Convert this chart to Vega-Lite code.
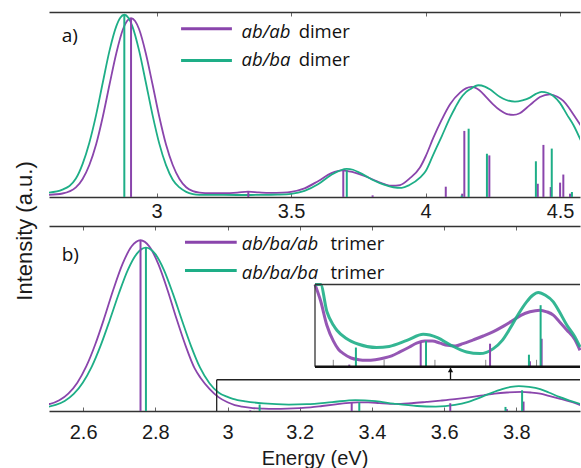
{
 "$schema": "https://vega.github.io/schema/vega-lite/v6.json",
 "background": "white",
 "padding": {"left": 14, "top": 11, "right": 0, "bottom": 0},
 "bounds": "flush",
 "spacing": 29,
 "config": {
  "view": {"stroke": null},
  "legend": {"disable": true},
  "axis": {"grid": false, "domainColor": "#333333", "domainWidth": 1.4, "tickColor": "#666666", "tickWidth": 1, "labelFont": "Liberation Sans", "labelFontSize": 20, "labelColor": "#1a1a1a", "titleFont": "Liberation Sans", "titleFontSize": 20, "titleColor": "#1a1a1a", "titleFontWeight": "normal"}
 },
 "datasets": {
  "curves": [
   {"panel":"a","series":"ab/ab dimer","E":2.600,"I":0.012},
   {"panel":"a","series":"ab/ab dimer","E":2.650,"I":0.019},
   {"panel":"a","series":"ab/ab dimer","E":2.700,"I":0.052},
   {"panel":"a","series":"ab/ab dimer","E":2.725,"I":0.098},
   {"panel":"a","series":"ab/ab dimer","E":2.750,"I":0.174},
   {"panel":"a","series":"ab/ab dimer","E":2.775,"I":0.285},
   {"panel":"a","series":"ab/ab dimer","E":2.800,"I":0.436},
   {"panel":"a","series":"ab/ab dimer","E":2.825,"I":0.611},
   {"panel":"a","series":"ab/ab dimer","E":2.850,"I":0.780},
   {"panel":"a","series":"ab/ab dimer","E":2.875,"I":0.911},
   {"panel":"a","series":"ab/ab dimer","E":2.890,"I":0.956},
   {"panel":"a","series":"ab/ab dimer","E":2.905,"I":0.972},
   {"panel":"a","series":"ab/ab dimer","E":2.920,"I":0.956},
   {"panel":"a","series":"ab/ab dimer","E":2.935,"I":0.911},
   {"panel":"a","series":"ab/ab dimer","E":2.960,"I":0.780},
   {"panel":"a","series":"ab/ab dimer","E":2.985,"I":0.611},
   {"panel":"a","series":"ab/ab dimer","E":3.010,"I":0.436},
   {"panel":"a","series":"ab/ab dimer","E":3.035,"I":0.285},
   {"panel":"a","series":"ab/ab dimer","E":3.060,"I":0.174},
   {"panel":"a","series":"ab/ab dimer","E":3.085,"I":0.098},
   {"panel":"a","series":"ab/ab dimer","E":3.110,"I":0.053},
   {"panel":"a","series":"ab/ab dimer","E":3.135,"I":0.032},
   {"panel":"a","series":"ab/ab dimer","E":3.160,"I":0.024},
   {"panel":"a","series":"ab/ab dimer","E":3.200,"I":0.021},
   {"panel":"a","series":"ab/ab dimer","E":3.250,"I":0.021},
   {"panel":"a","series":"ab/ab dimer","E":3.300,"I":0.024},
   {"panel":"a","series":"ab/ab dimer","E":3.340,"I":0.029},
   {"panel":"a","series":"ab/ab dimer","E":3.380,"I":0.025},
   {"panel":"a","series":"ab/ab dimer","E":3.420,"I":0.022},
   {"panel":"a","series":"ab/ab dimer","E":3.470,"I":0.024},
   {"panel":"a","series":"ab/ab dimer","E":3.500,"I":0.028},
   {"panel":"a","series":"ab/ab dimer","E":3.550,"I":0.047},
   {"panel":"a","series":"ab/ab dimer","E":3.600,"I":0.086},
   {"panel":"a","series":"ab/ab dimer","E":3.650,"I":0.130},
   {"panel":"a","series":"ab/ab dimer","E":3.690,"I":0.145},
   {"panel":"a","series":"ab/ab dimer","E":3.730,"I":0.135},
   {"panel":"a","series":"ab/ab dimer","E":3.780,"I":0.110},
   {"panel":"a","series":"ab/ab dimer","E":3.820,"I":0.085},
   {"panel":"a","series":"ab/ab dimer","E":3.850,"I":0.068},
   {"panel":"a","series":"ab/ab dimer","E":3.875,"I":0.061},
   {"panel":"a","series":"ab/ab dimer","E":3.905,"I":0.065},
   {"panel":"a","series":"ab/ab dimer","E":3.940,"I":0.100},
   {"panel":"a","series":"ab/ab dimer","E":3.979,"I":0.160},
   {"panel":"a","series":"ab/ab dimer","E":4.000,"I":0.220},
   {"panel":"a","series":"ab/ab dimer","E":4.029,"I":0.322},
   {"panel":"a","series":"ab/ab dimer","E":4.060,"I":0.420},
   {"panel":"a","series":"ab/ab dimer","E":4.091,"I":0.504},
   {"panel":"a","series":"ab/ab dimer","E":4.128,"I":0.567},
   {"panel":"a","series":"ab/ab dimer","E":4.150,"I":0.590},
   {"panel":"a","series":"ab/ab dimer","E":4.171,"I":0.598},
   {"panel":"a","series":"ab/ab dimer","E":4.200,"I":0.580},
   {"panel":"a","series":"ab/ab dimer","E":4.227,"I":0.540},
   {"panel":"a","series":"ab/ab dimer","E":4.250,"I":0.505},
   {"panel":"a","series":"ab/ab dimer","E":4.277,"I":0.471},
   {"panel":"a","series":"ab/ab dimer","E":4.300,"I":0.452},
   {"panel":"a","series":"ab/ab dimer","E":4.326,"I":0.446},
   {"panel":"a","series":"ab/ab dimer","E":4.350,"I":0.455},
   {"panel":"a","series":"ab/ab dimer","E":4.376,"I":0.485},
   {"panel":"a","series":"ab/ab dimer","E":4.400,"I":0.515},
   {"panel":"a","series":"ab/ab dimer","E":4.425,"I":0.543},
   {"panel":"a","series":"ab/ab dimer","E":4.462,"I":0.558},
   {"panel":"a","series":"ab/ab dimer","E":4.490,"I":0.545},
   {"panel":"a","series":"ab/ab dimer","E":4.512,"I":0.522},
   {"panel":"a","series":"ab/ab dimer","E":4.530,"I":0.490},
   {"panel":"a","series":"ab/ab dimer","E":4.549,"I":0.449},
   {"panel":"a","series":"ab/ab dimer","E":4.578,"I":0.386},
   {"panel":"a","series":"ab/ba dimer","E":2.600,"I":0.024},
   {"panel":"a","series":"ab/ba dimer","E":2.650,"I":0.040},
   {"panel":"a","series":"ab/ba dimer","E":2.700,"I":0.100},
   {"panel":"a","series":"ab/ba dimer","E":2.725,"I":0.180},
   {"panel":"a","series":"ab/ba dimer","E":2.750,"I":0.295},
   {"panel":"a","series":"ab/ba dimer","E":2.775,"I":0.445},
   {"panel":"a","series":"ab/ba dimer","E":2.800,"I":0.622},
   {"panel":"a","series":"ab/ba dimer","E":2.825,"I":0.795},
   {"panel":"a","series":"ab/ba dimer","E":2.850,"I":0.927},
   {"panel":"a","series":"ab/ba dimer","E":2.865,"I":0.974},
   {"panel":"a","series":"ab/ba dimer","E":2.880,"I":0.990},
   {"panel":"a","series":"ab/ba dimer","E":2.895,"I":0.974},
   {"panel":"a","series":"ab/ba dimer","E":2.910,"I":0.927},
   {"panel":"a","series":"ab/ba dimer","E":2.935,"I":0.795},
   {"panel":"a","series":"ab/ba dimer","E":2.960,"I":0.622},
   {"panel":"a","series":"ab/ba dimer","E":2.985,"I":0.445},
   {"panel":"a","series":"ab/ba dimer","E":3.010,"I":0.290},
   {"panel":"a","series":"ab/ba dimer","E":3.035,"I":0.173},
   {"panel":"a","series":"ab/ba dimer","E":3.060,"I":0.094},
   {"panel":"a","series":"ab/ba dimer","E":3.085,"I":0.052},
   {"panel":"a","series":"ab/ba dimer","E":3.110,"I":0.028},
   {"panel":"a","series":"ab/ba dimer","E":3.135,"I":0.016},
   {"panel":"a","series":"ab/ba dimer","E":3.160,"I":0.012},
   {"panel":"a","series":"ab/ba dimer","E":3.250,"I":0.011},
   {"panel":"a","series":"ab/ba dimer","E":3.350,"I":0.011},
   {"panel":"a","series":"ab/ba dimer","E":3.420,"I":0.012},
   {"panel":"a","series":"ab/ba dimer","E":3.450,"I":0.013},
   {"panel":"a","series":"ab/ba dimer","E":3.500,"I":0.017},
   {"panel":"a","series":"ab/ba dimer","E":3.550,"I":0.033},
   {"panel":"a","series":"ab/ba dimer","E":3.600,"I":0.069},
   {"panel":"a","series":"ab/ba dimer","E":3.650,"I":0.121},
   {"panel":"a","series":"ab/ba dimer","E":3.707,"I":0.153},
   {"panel":"a","series":"ab/ba dimer","E":3.730,"I":0.148},
   {"panel":"a","series":"ab/ba dimer","E":3.750,"I":0.135},
   {"panel":"a","series":"ab/ba dimer","E":3.780,"I":0.112},
   {"panel":"a","series":"ab/ba dimer","E":3.800,"I":0.095},
   {"panel":"a","series":"ab/ba dimer","E":3.830,"I":0.075},
   {"panel":"a","series":"ab/ba dimer","E":3.860,"I":0.060},
   {"panel":"a","series":"ab/ba dimer","E":3.880,"I":0.053},
   {"panel":"a","series":"ab/ba dimer","E":3.911,"I":0.050},
   {"panel":"a","series":"ab/ba dimer","E":3.940,"I":0.065},
   {"panel":"a","series":"ab/ba dimer","E":3.979,"I":0.105},
   {"panel":"a","series":"ab/ba dimer","E":4.000,"I":0.140},
   {"panel":"a","series":"ab/ba dimer","E":4.029,"I":0.232},
   {"panel":"a","series":"ab/ba dimer","E":4.060,"I":0.330},
   {"panel":"a","series":"ab/ba dimer","E":4.091,"I":0.431},
   {"panel":"a","series":"ab/ba dimer","E":4.110,"I":0.485},
   {"panel":"a","series":"ab/ba dimer","E":4.128,"I":0.531},
   {"panel":"a","series":"ab/ba dimer","E":4.150,"I":0.570},
   {"panel":"a","series":"ab/ba dimer","E":4.165,"I":0.585},
   {"panel":"a","series":"ab/ba dimer","E":4.196,"I":0.607},
   {"panel":"a","series":"ab/ba dimer","E":4.220,"I":0.600},
   {"panel":"a","series":"ab/ba dimer","E":4.239,"I":0.585},
   {"panel":"a","series":"ab/ba dimer","E":4.277,"I":0.543},
   {"panel":"a","series":"ab/ba dimer","E":4.300,"I":0.527},
   {"panel":"a","series":"ab/ba dimer","E":4.332,"I":0.518},
   {"panel":"a","series":"ab/ba dimer","E":4.360,"I":0.525},
   {"panel":"a","series":"ab/ba dimer","E":4.388,"I":0.540},
   {"panel":"a","series":"ab/ba dimer","E":4.410,"I":0.560},
   {"panel":"a","series":"ab/ba dimer","E":4.431,"I":0.571},
   {"panel":"a","series":"ab/ba dimer","E":4.455,"I":0.565},
   {"panel":"a","series":"ab/ba dimer","E":4.475,"I":0.549},
   {"panel":"a","series":"ab/ba dimer","E":4.500,"I":0.510},
   {"panel":"a","series":"ab/ba dimer","E":4.525,"I":0.449},
   {"panel":"a","series":"ab/ba dimer","E":4.550,"I":0.390},
   {"panel":"a","series":"ab/ba dimer","E":4.578,"I":0.304},
   {"panel":"b","series":"ab/ba/ab trimer","E":2.500,"I":0.036},
   {"panel":"b","series":"ab/ba/ab trimer","E":2.509,"I":0.039},
   {"panel":"b","series":"ab/ba/ab trimer","E":2.534,"I":0.058},
   {"panel":"b","series":"ab/ba/ab trimer","E":2.559,"I":0.094},
   {"panel":"b","series":"ab/ba/ab trimer","E":2.584,"I":0.153},
   {"panel":"b","series":"ab/ba/ab trimer","E":2.609,"I":0.242},
   {"panel":"b","series":"ab/ba/ab trimer","E":2.634,"I":0.362},
   {"panel":"b","series":"ab/ba/ab trimer","E":2.659,"I":0.505},
   {"panel":"b","series":"ab/ba/ab trimer","E":2.684,"I":0.658},
   {"panel":"b","series":"ab/ba/ab trimer","E":2.709,"I":0.794},
   {"panel":"b","series":"ab/ba/ab trimer","E":2.734,"I":0.889},
   {"panel":"b","series":"ab/ba/ab trimer","E":2.759,"I":0.923},
   {"panel":"b","series":"ab/ba/ab trimer","E":2.784,"I":0.888},
   {"panel":"b","series":"ab/ba/ab trimer","E":2.809,"I":0.791},
   {"panel":"b","series":"ab/ba/ab trimer","E":2.834,"I":0.653},
   {"panel":"b","series":"ab/ba/ab trimer","E":2.859,"I":0.497},
   {"panel":"b","series":"ab/ba/ab trimer","E":2.884,"I":0.352},
   {"panel":"b","series":"ab/ba/ab trimer","E":2.909,"I":0.230},
   {"panel":"b","series":"ab/ba/ab trimer","E":2.925,"I":0.180},
   {"panel":"b","series":"ab/ba/ab trimer","E":2.950,"I":0.120},
   {"panel":"b","series":"ab/ba/ab trimer","E":2.975,"I":0.075},
   {"panel":"b","series":"ab/ba/ab trimer","E":3.000,"I":0.047},
   {"panel":"b","series":"ab/ba/ab trimer","E":3.020,"I":0.032},
   {"panel":"b","series":"ab/ba/ab trimer","E":3.040,"I":0.024},
   {"panel":"b","series":"ab/ba/ab trimer","E":3.070,"I":0.016},
   {"panel":"b","series":"ab/ba/ab trimer","E":3.100,"I":0.013},
   {"panel":"b","series":"ab/ba/ab trimer","E":3.130,"I":0.012},
   {"panel":"b","series":"ab/ba/ab trimer","E":3.165,"I":0.013},
   {"panel":"b","series":"ab/ba/ab trimer","E":3.200,"I":0.016},
   {"panel":"b","series":"ab/ba/ab trimer","E":3.230,"I":0.020},
   {"panel":"b","series":"ab/ba/ab trimer","E":3.262,"I":0.027},
   {"panel":"b","series":"ab/ba/ab trimer","E":3.300,"I":0.036},
   {"panel":"b","series":"ab/ba/ab trimer","E":3.328,"I":0.043},
   {"panel":"b","series":"ab/ba/ab trimer","E":3.360,"I":0.047},
   {"panel":"b","series":"ab/ba/ab trimer","E":3.390,"I":0.047},
   {"panel":"b","series":"ab/ba/ab trimer","E":3.420,"I":0.043},
   {"panel":"b","series":"ab/ba/ab trimer","E":3.450,"I":0.039},
   {"panel":"b","series":"ab/ba/ab trimer","E":3.480,"I":0.038},
   {"panel":"b","series":"ab/ba/ab trimer","E":3.510,"I":0.042},
   {"panel":"b","series":"ab/ba/ab trimer","E":3.551,"I":0.049},
   {"panel":"b","series":"ab/ba/ab trimer","E":3.590,"I":0.056},
   {"panel":"b","series":"ab/ba/ab trimer","E":3.630,"I":0.064},
   {"panel":"b","series":"ab/ba/ab trimer","E":3.670,"I":0.074},
   {"panel":"b","series":"ab/ba/ab trimer","E":3.709,"I":0.085},
   {"panel":"b","series":"ab/ba/ab trimer","E":3.740,"I":0.094},
   {"panel":"b","series":"ab/ba/ab trimer","E":3.774,"I":0.100},
   {"panel":"b","series":"ab/ba/ab trimer","E":3.814,"I":0.103},
   {"panel":"b","series":"ab/ba/ab trimer","E":3.840,"I":0.100},
   {"panel":"b","series":"ab/ba/ab trimer","E":3.866,"I":0.094},
   {"panel":"b","series":"ab/ba/ab trimer","E":3.890,"I":0.082},
   {"panel":"b","series":"ab/ba/ab trimer","E":3.919,"I":0.067},
   {"panel":"b","series":"ab/ba/ab trimer","E":3.950,"I":0.050},
   {"panel":"b","series":"ab/ba/ab trimer","E":3.980,"I":0.030},
   {"panel":"b","series":"ab/ba/ba trimer","E":2.500,"I":0.022},
   {"panel":"b","series":"ab/ba/ba trimer","E":2.524,"I":0.033},
   {"panel":"b","series":"ab/ba/ba trimer","E":2.549,"I":0.054},
   {"panel":"b","series":"ab/ba/ba trimer","E":2.574,"I":0.092},
   {"panel":"b","series":"ab/ba/ba trimer","E":2.599,"I":0.153},
   {"panel":"b","series":"ab/ba/ba trimer","E":2.624,"I":0.240},
   {"panel":"b","series":"ab/ba/ba trimer","E":2.649,"I":0.356},
   {"panel":"b","series":"ab/ba/ba trimer","E":2.674,"I":0.492},
   {"panel":"b","series":"ab/ba/ba trimer","E":2.699,"I":0.635},
   {"panel":"b","series":"ab/ba/ba trimer","E":2.724,"I":0.763},
   {"panel":"b","series":"ab/ba/ba trimer","E":2.749,"I":0.851},
   {"panel":"b","series":"ab/ba/ba trimer","E":2.774,"I":0.883},
   {"panel":"b","series":"ab/ba/ba trimer","E":2.799,"I":0.851},
   {"panel":"b","series":"ab/ba/ba trimer","E":2.824,"I":0.762},
   {"panel":"b","series":"ab/ba/ba trimer","E":2.849,"I":0.633},
   {"panel":"b","series":"ab/ba/ba trimer","E":2.874,"I":0.489},
   {"panel":"b","series":"ab/ba/ba trimer","E":2.899,"I":0.351},
   {"panel":"b","series":"ab/ba/ba trimer","E":2.924,"I":0.234},
   {"panel":"b","series":"ab/ba/ba trimer","E":2.950,"I":0.150},
   {"panel":"b","series":"ab/ba/ba trimer","E":2.975,"I":0.100},
   {"panel":"b","series":"ab/ba/ba trimer","E":3.000,"I":0.076},
   {"panel":"b","series":"ab/ba/ba trimer","E":3.015,"I":0.066},
   {"panel":"b","series":"ab/ba/ba trimer","E":3.050,"I":0.052},
   {"panel":"b","series":"ab/ba/ba trimer","E":3.100,"I":0.041},
   {"panel":"b","series":"ab/ba/ba trimer","E":3.170,"I":0.035},
   {"panel":"b","series":"ab/ba/ba trimer","E":3.220,"I":0.037},
   {"panel":"b","series":"ab/ba/ba trimer","E":3.290,"I":0.048},
   {"panel":"b","series":"ab/ba/ba trimer","E":3.354,"I":0.059},
   {"panel":"b","series":"ab/ba/ba trimer","E":3.410,"I":0.053},
   {"panel":"b","series":"ab/ba/ba trimer","E":3.460,"I":0.040},
   {"panel":"b","series":"ab/ba/ba trimer","E":3.525,"I":0.027},
   {"panel":"b","series":"ab/ba/ba trimer","E":3.577,"I":0.024},
   {"panel":"b","series":"ab/ba/ba trimer","E":3.630,"I":0.033},
   {"panel":"b","series":"ab/ba/ba trimer","E":3.665,"I":0.048},
   {"panel":"b","series":"ab/ba/ba trimer","E":3.696,"I":0.070},
   {"panel":"b","series":"ab/ba/ba trimer","E":3.730,"I":0.097},
   {"panel":"b","series":"ab/ba/ba trimer","E":3.761,"I":0.118},
   {"panel":"b","series":"ab/ba/ba trimer","E":3.785,"I":0.130},
   {"panel":"b","series":"ab/ba/ba trimer","E":3.807,"I":0.135},
   {"panel":"b","series":"ab/ba/ba trimer","E":3.835,"I":0.130},
   {"panel":"b","series":"ab/ba/ba trimer","E":3.866,"I":0.118},
   {"panel":"b","series":"ab/ba/ba trimer","E":3.890,"I":0.100},
   {"panel":"b","series":"ab/ba/ba trimer","E":3.919,"I":0.076},
   {"panel":"b","series":"ab/ba/ba trimer","E":3.950,"I":0.055},
   {"panel":"b","series":"ab/ba/ba trimer","E":3.980,"I":0.036}
  ],
  "sticks": [
   {"panel":"a","series":"ab/ab dimer","E":2.905,"I":0.972},
   {"panel":"a","series":"ab/ab dimer","E":3.341,"I":0.030},
   {"panel":"a","series":"ab/ab dimer","E":3.694,"I":0.142},
   {"panel":"a","series":"ab/ab dimer","E":3.803,"I":0.009},
   {"panel":"a","series":"ab/ab dimer","E":4.075,"I":0.056},
   {"panel":"a","series":"ab/ab dimer","E":4.136,"I":0.018},
   {"panel":"a","series":"ab/ab dimer","E":4.144,"I":0.359},
   {"panel":"a","series":"ab/ab dimer","E":4.237,"I":0.226},
   {"panel":"a","series":"ab/ab dimer","E":4.417,"I":0.072},
   {"panel":"a","series":"ab/ab dimer","E":4.438,"I":0.283},
   {"panel":"a","series":"ab/ab dimer","E":4.465,"I":0.054},
   {"panel":"a","series":"ab/ab dimer","E":4.500,"I":0.078},
   {"panel":"a","series":"ab/ab dimer","E":4.512,"I":0.122},
   {"panel":"a","series":"ab/ab dimer","E":4.537,"I":0.018},
   {"panel":"a","series":"ab/ba dimer","E":2.880,"I":0.990},
   {"panel":"a","series":"ab/ba dimer","E":3.707,"I":0.145},
   {"panel":"a","series":"ab/ba dimer","E":4.134,"I":0.008},
   {"panel":"a","series":"ab/ba dimer","E":4.160,"I":0.371},
   {"panel":"a","series":"ab/ba dimer","E":4.228,"I":0.235},
   {"panel":"a","series":"ab/ba dimer","E":4.410,"I":0.194},
   {"panel":"a","series":"ab/ba dimer","E":4.469,"I":0.263},
   {"panel":"a","series":"ab/ba dimer","E":4.544,"I":0.027},
   {"panel":"b","series":"ab/ba/ab trimer","E":2.759,"I":0.923},
   {"panel":"b","series":"ab/ba/ab trimer","E":3.063,"I":0.004},
   {"panel":"b","series":"ab/ba/ab trimer","E":3.344,"I":0.045},
   {"panel":"b","series":"ab/ba/ab trimer","E":3.617,"I":0.042},
   {"panel":"b","series":"ab/ba/ab trimer","E":3.774,"I":0.010},
   {"panel":"b","series":"ab/ba/ab trimer","E":3.820,"I":0.051},
   {"panel":"b","series":"ab/ba/ba trimer","E":2.774,"I":0.883},
   {"panel":"b","series":"ab/ba/ba trimer","E":3.089,"I":0.035},
   {"panel":"b","series":"ab/ba/ba trimer","E":3.365,"I":0.047},
   {"panel":"b","series":"ab/ba/ba trimer","E":3.770,"I":0.022},
   {"panel":"b","series":"ab/ba/ba trimer","E":3.816,"I":0.112}
  ]
 },
 "vconcat": [
  {
   "width": 531, "height": 185,
   "resolve": {"axis": {"x": "independent"}},
   "layer": [
    {"data": {"name": "curves"}, "transform": [{"filter": "datum.panel == 'a'"}],
     "mark": {"type": "line", "strokeWidth": 1.8, "interpolate": "monotone", "clip": true},
     "encoding": {
      "x": {"field": "E", "type": "quantitative", "scale": {"domain": [2.6, 4.574], "nice": false, "zero": false},
            "axis": {"orient": "bottom", "values": [3, 3.5, 4, 4.5], "format": "~g", "tickSize": -4, "labelPadding": 8, "title": null}},
      "y": {"field": "I", "type": "quantitative", "scale": {"domain": [0, 1.005], "nice": false},
            "axis": {"orient": "left", "ticks": false, "labels": false, "title": null}},
      "color": {"field": "series", "type": "nominal", "scale": {"domain": ["ab/ab dimer", "ab/ba dimer", "ab/ba/ab trimer", "ab/ba/ba trimer"], "range": ["#8A45AC", "#1EAE87", "#8A45AC", "#1EAE87"]}}
     }},
    {"data": {"name": "sticks"}, "transform": [{"filter": "datum.panel == 'a'"}],
     "mark": {"type": "rule", "strokeWidth": 2, "clip": true},
     "encoding": {
      "x": {"field": "E", "type": "quantitative", "axis": {"orient": "top", "values": [3, 3.5, 4, 4.5], "tickSize": -4, "labels": false, "title": null}},
      "y": {"field": "I", "type": "quantitative", "axis": null},
      "y2": {"datum": 0},
      "color": {"field": "series", "type": "nominal"}
     }},
    {"data": {"values": [{}]}, "mark": {"type": "text", "font": "Liberation Sans", "fontSize": 22, "angle": 270, "align": "center", "baseline": "middle", "color": "#1a1a1a"},
     "encoding": {"x": {"datum": 2.5108, "type": "quantitative", "axis": null}, "y": {"datum": -0.1847, "type": "quantitative", "axis": null}, "text": {"value": "Intensity (a.u.)"}}},
    {"data": {"values": [{}]}, "mark": {"type": "rule", "strokeWidth": 3},
     "encoding": {"x": {"datum": 3.091, "type": "quantitative", "axis": null}, "x2": {"datum": 3.280}, "y": {"datum": 0.914, "type": "quantitative", "axis": null}, "color": {"datum": "ab/ab dimer"}}},
    {"data": {"values": [{}]}, "mark": {"type": "rule", "strokeWidth": 3},
     "encoding": {"x": {"datum": 3.091, "type": "quantitative", "axis": null}, "x2": {"datum": 3.280}, "y": {"datum": 0.742, "type": "quantitative", "axis": null}, "color": {"datum": "ab/ba dimer"}}},
    {"data": {"values": [{}]}, "mark": {"type": "text", "font": "Open Sans", "fontSize": 18.5, "fontStyle": "italic", "align": "left", "baseline": "alphabetic", "color": "#111111"},
     "encoding": {"x": {"datum": 3.316, "type": "quantitative", "axis": null}, "y": {"datum": 0.865, "type": "quantitative", "axis": null}, "text": {"value": "ab/ab"}}},
    {"data": {"values": [{}]}, "mark": {"type": "text", "font": "Open Sans", "fontSize": 18.5, "align": "left", "baseline": "alphabetic", "color": "#111111"},
     "encoding": {"x": {"datum": 3.528, "type": "quantitative", "axis": null}, "y": {"datum": 0.865, "type": "quantitative", "axis": null}, "text": {"value": "dimer"}}},
    {"data": {"values": [{}]}, "mark": {"type": "text", "font": "Open Sans", "fontSize": 18.5, "fontStyle": "italic", "align": "left", "baseline": "alphabetic", "color": "#111111"},
     "encoding": {"x": {"datum": 3.316, "type": "quantitative", "axis": null}, "y": {"datum": 0.711, "type": "quantitative", "axis": null}, "text": {"value": "ab/ba"}}},
    {"data": {"values": [{}]}, "mark": {"type": "text", "font": "Open Sans", "fontSize": 18.5, "align": "left", "baseline": "alphabetic", "color": "#111111"},
     "encoding": {"x": {"datum": 3.528, "type": "quantitative", "axis": null}, "y": {"datum": 0.711, "type": "quantitative", "axis": null}, "text": {"value": "dimer"}}},
    {"data": {"values": [{}]}, "mark": {"type": "text", "font": "Open Sans", "fontSize": 19, "align": "left", "baseline": "alphabetic", "color": "#111111"},
     "encoding": {"x": {"datum": 2.647, "type": "quantitative", "axis": null}, "y": {"datum": 0.84, "type": "quantitative", "axis": null}, "text": {"value": "a)"}}}
   ]
  },
  {
   "width": 531, "height": 185,
   "resolve": {"scale": {"x": "independent", "y": "independent"}},
   "layer": [
    {
     "resolve": {"axis": {"x": "independent"}},
     "layer": [
      {"data": {"name": "curves"}, "transform": [{"filter": "datum.panel == 'b'"}],
       "mark": {"type": "line", "strokeWidth": 1.8, "interpolate": "monotone", "clip": true},
       "encoding": {
        "x": {"field": "E", "type": "quantitative", "scale": {"domain": [2.5055, 3.9764], "nice": false, "zero": false},
              "axis": {"orient": "bottom", "values": [2.6, 2.8, 3, 3.2, 3.4, 3.6, 3.8], "format": "~g", "tickSize": -4, "labelPadding": 15, "title": "Energy (eV)", "titleY": 53.8, "titleBaseline": "alphabetic"}},
        "y": {"field": "I", "type": "quantitative", "scale": {"domain": [0, 1], "nice": false},
              "axis": {"orient": "left", "ticks": false, "labels": false, "title": null}},
        "color": {"field": "series", "type": "nominal"}
       }},
      {"data": {"name": "sticks"}, "transform": [{"filter": "datum.panel == 'b'"}],
       "mark": {"type": "rule", "strokeWidth": 2, "clip": true},
       "encoding": {
        "x": {"field": "E", "type": "quantitative", "axis": {"orient": "top", "values": [2.6, 2.8, 3, 3.2, 3.4, 3.6, 3.8], "tickSize": -4, "labels": false, "title": null}},
        "y": {"field": "I", "type": "quantitative", "axis": null},
        "y2": {"datum": 0},
        "color": {"field": "series", "type": "nominal"}
       }},
      {"data": {"values": [{}]}, "mark": {"type": "rule", "strokeWidth": 1.3, "color": "#222222"},
       "encoding": {"x": {"datum": 2.97, "type": "quantitative", "axis": null}, "y": {"datum": 0, "type": "quantitative", "axis": null}, "y2": {"datum": 0.169}}},
      {"data": {"values": [{}]}, "mark": {"type": "rule", "strokeWidth": 1.3, "color": "#222222"},
       "encoding": {"x": {"datum": 2.97, "type": "quantitative", "axis": null}, "x2": {"datum": 3.9764}, "y": {"datum": 0.169, "type": "quantitative", "axis": null}}},
      {"data": {"values": [{}]}, "mark": {"type": "rule", "strokeWidth": 1.3, "color": "#111111"},
       "encoding": {"x": {"datum": 3.6177, "type": "quantitative", "axis": null}, "y": {"datum": 0.169, "type": "quantitative", "axis": null}, "y2": {"datum": 0.232}}},
      {"data": {"values": [{}]}, "mark": {"type": "point", "shape": "triangle-up", "filled": true, "size": 28, "color": "#111111", "opacity": 1},
       "encoding": {"x": {"datum": 3.6177, "type": "quantitative", "axis": null}, "y": {"datum": 0.222, "type": "quantitative", "axis": null}}},
      {"data": {"values": [{}]}, "mark": {"type": "rule", "strokeWidth": 3},
       "encoding": {"x": {"datum": 2.8822, "type": "quantitative", "axis": null}, "x2": {"datum": 3.0255}, "y": {"datum": 0.912, "type": "quantitative", "axis": null}, "color": {"datum": "ab/ba/ab trimer"}}},
      {"data": {"values": [{}]}, "mark": {"type": "rule", "strokeWidth": 3},
       "encoding": {"x": {"datum": 2.8822, "type": "quantitative", "axis": null}, "x2": {"datum": 3.0255}, "y": {"datum": 0.759, "type": "quantitative", "axis": null}, "color": {"datum": "ab/ba/ba trimer"}}},
      {"data": {"values": [{}]}, "mark": {"type": "text", "font": "Open Sans", "fontSize": 18.5, "fontStyle": "italic", "align": "left", "baseline": "alphabetic", "color": "#111111"},
       "encoding": {"x": {"datum": 3.0393, "type": "quantitative", "axis": null}, "y": {"datum": 0.868, "type": "quantitative", "axis": null}, "text": {"value": "ab/ba/ab"}}},
      {"data": {"values": [{}]}, "mark": {"type": "text", "font": "Open Sans", "fontSize": 18.5, "align": "left", "baseline": "alphabetic", "color": "#111111"},
       "encoding": {"x": {"datum": 3.285, "type": "quantitative", "axis": null}, "y": {"datum": 0.868, "type": "quantitative", "axis": null}, "text": {"value": "trimer"}}},
      {"data": {"values": [{}]}, "mark": {"type": "text", "font": "Open Sans", "fontSize": 18.5, "fontStyle": "italic", "align": "left", "baseline": "alphabetic", "color": "#111111"},
       "encoding": {"x": {"datum": 3.0393, "type": "quantitative", "axis": null}, "y": {"datum": 0.715, "type": "quantitative", "axis": null}, "text": {"value": "ab/ba/ba"}}},
      {"data": {"values": [{}]}, "mark": {"type": "text", "font": "Open Sans", "fontSize": 18.5, "align": "left", "baseline": "alphabetic", "color": "#111111"},
       "encoding": {"x": {"datum": 3.285, "type": "quantitative", "axis": null}, "y": {"datum": 0.715, "type": "quantitative", "axis": null}, "text": {"value": "trimer"}}},
      {"data": {"values": [{}]}, "mark": {"type": "text", "font": "Open Sans", "fontSize": 19, "align": "left", "baseline": "alphabetic", "color": "#111111"},
       "encoding": {"x": {"datum": 2.5407, "type": "quantitative", "axis": null}, "y": {"datum": 0.8135, "type": "quantitative", "axis": null}, "text": {"value": "b)"}}}
     ]
    },
    {
     "layer": [
      {"data": {"name": "curves"}, "transform": [{"filter": "datum.panel == 'b' && datum.E >= 2.92"}],
       "mark": {"type": "line", "strokeWidth": 3, "interpolate": "monotone", "opacity": 0.9},
       "encoding": {
        "x": {"field": "E", "type": "quantitative", "scale": {"domain": [2.928, 3.971], "range": [266, 531], "clamp": true, "nice": false, "zero": false}, "axis": null},
        "y": {"field": "I", "type": "quantitative", "scale": {"domain": [0, 0.1496], "range": [140.8, 58.5], "clamp": true, "nice": false, "zero": false}, "axis": null},
        "color": {"field": "series", "type": "nominal"}
       }},
      {"data": {"name": "sticks"}, "transform": [{"filter": "datum.panel == 'b' && datum.E >= 2.95"}],
       "mark": {"type": "rule", "strokeWidth": 2},
       "encoding": {
        "x": {"field": "E", "type": "quantitative", "axis": null},
        "y": {"field": "I", "type": "quantitative", "axis": null},
        "y2": {"datum": 0},
        "color": {"field": "series", "type": "nominal"}
       }},
      {"data": {"values": [{"t": 3.0}, {"t": 3.2}, {"t": 3.4}, {"t": 3.6}, {"t": 3.8}]},
       "mark": {"type": "rule", "strokeWidth": 1, "color": "#888888"},
       "encoding": {"x": {"field": "t", "type": "quantitative", "axis": null}, "y": {"datum": 0, "type": "quantitative", "axis": null}, "y2": {"datum": 0.0127}}},
      {"data": {"values": [{}]}, "mark": {"type": "rule", "strokeWidth": 1.3, "color": "#333333"},
       "encoding": {"x": {"datum": 2.928, "type": "quantitative", "axis": null}, "y": {"datum": 0, "type": "quantitative", "axis": null}, "y2": {"datum": 0.1496}}},
      {"data": {"values": [{}]}, "mark": {"type": "rule", "strokeWidth": 1.3, "color": "#333333"},
       "encoding": {"x": {"datum": 2.928, "type": "quantitative", "axis": null}, "x2": {"datum": 3.971}, "y": {"datum": 0.1496, "type": "quantitative", "axis": null}}},
      {"data": {"values": [{}]}, "mark": {"type": "rule", "strokeWidth": 2.5, "color": "#111111"},
       "encoding": {"x": {"datum": 2.928, "type": "quantitative", "axis": null}, "x2": {"datum": 3.971}, "y": {"datum": 0, "type": "quantitative", "axis": null}}}
     ]
    }
   ]
  }
 ]
}
